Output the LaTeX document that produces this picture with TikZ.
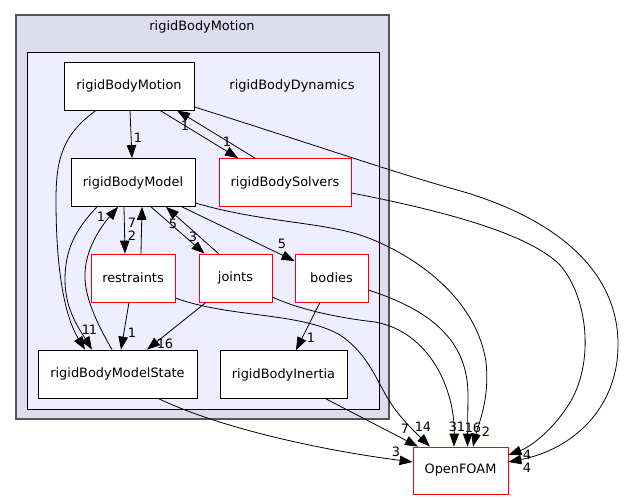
\documentclass[tikz,border=0pt]{standalone}
\usepackage{fontspec}
\setmainfont{DejaVu Sans}
\usetikzlibrary{arrows.meta,calc}
\definecolor{outerfill}{HTML}{DDDDEE}
\definecolor{innerfill}{HTML}{EEEEFF}
\definecolor{outerline}{HTML}{555555}
\begin{document}
\begin{tikzpicture}[x=1pt,y=-1pt,
  every node/.style={font=\fontsize{12.9}{14}\selectfont},
  box/.style={draw=black, fill=white, line width=0.8pt, minimum height=48pt, inner sep=0pt},
  rbox/.style={box, draw=red},
  edge/.style={draw=black, line width=0.8pt, -{Triangle[length=13pt,width=9.5pt]}},
  lbl/.style={inner sep=0pt}]
\useasboundingbox (0,0) rectangle (625,500);
% clusters
\draw[fill=outerfill, draw=outerline, line width=1.2pt] (16,15) rectangle (389,419);
\node (clmotion) at (202,27) {rigidBodyMotion};
\draw[fill=innerfill, draw=black, line width=0.9pt] (27,52) rectangle (379,409);
\node (cldyn) at (292,86) {rigidBodyDynamics};
% nodes
\node[box, minimum width=130pt] (motion) at (129,86) {rigidBodyMotion};
\node[box, minimum width=124pt] (model) at (133,182.5) {rigidBodyModel};
\node[rbox, minimum width=132pt] (solvers) at (285,182.5) {rigidBodySolvers};
\node[rbox, minimum width=84pt] (restraints) at (133,278) {restraints};
\node[rbox, minimum width=73pt] (joints) at (235.5,278) {joints};
\node[rbox, minimum width=73pt] (bodies) at (331.5,278) {bodies};
\node[box, minimum width=159pt] (state) at (117.5,374) {rigidBodyModelState};
\node[box, minimum width=127pt] (inertia) at (283.5,374.5) {rigidBodyInertia};
\node[rbox, minimum width=95pt, minimum height=47pt] (openfoam) at (460.5,470.5) {OpenFOAM};
% edges
\draw[edge] ([xshift=1pt]motion.south) -- ([xshift=-1pt]model.north);
\draw[edge] ([xshift=31pt]motion.south) -- ([xshift=-47pt]solvers.north);
\draw[edge] ([xshift=-30pt]solvers.north) -- ([xshift=48pt]motion.south);
\draw[edge] ([xshift=-33pt]motion.south) .. controls (62,135) and (56,160) .. (56,200) .. controls (56,290) and (70,325) .. ([xshift=-32.5pt]state.north);
\draw[edge] ([xshift=-36pt]model.south) .. controls (75,230) and (65,250) .. (65,280) .. controls (65,310) and (80,330) .. ([xshift=-25.5pt]state.north);
\draw[edge] ([xshift=-5.5pt]state.north) .. controls (95,320) and (84,295) .. (85,273) .. controls (86,245) and (105,222) .. ([xshift=-15pt]model.south);
\draw[edge] ([xshift=-9pt]model.south) -- ([xshift=-8pt]restraints.north);
\draw[edge] ([xshift=8pt]restraints.north) -- ([xshift=9pt]model.south);
\draw[edge] ([xshift=18pt]model.south) -- ([xshift=-31pt]joints.north);
\draw[edge] ([xshift=-17pt]joints.north) -- ([xshift=33pt]model.south);
\draw[edge] ([xshift=49pt]model.south) -- ([yshift=17pt]bodies.west);
\draw[edge] ([yshift=-20.5pt]model.east) .. controls (260,222) and (320,222) .. (360,235) .. controls (400,248) and (475,290) .. (486,362) .. controls (490,400) and (478,425) .. ([xshift=12.5pt]openfoam.north);
\draw[edge] ([yshift=-10.5pt]solvers.east) .. controls (450,212) and (530,235) .. (560,265) .. controls (590,300) and (595,370) .. (565,410) .. controls (550,432) and (530,447) .. ([yshift=15.5pt]openfoam.east);
\draw[edge] ([yshift=-21pt]motion.east) .. controls (300,140) and (380,168) .. (450,188) .. controls (540,212) and (615,260) .. (618,340) .. controls (620,410) and (570,450) .. ([yshift=8.5pt]openfoam.east);
\draw[edge] ([yshift=-20pt]restraints.east) .. controls (230,318) and (300,312) .. (340,335) .. controls (370,355) and (378,385) .. (392,405) .. controls (402,420) and (418,435) .. ([xshift=-30.5pt]openfoam.north);
\draw[edge] ([yshift=-19pt]joints.east) .. controls (300,310) and (340,318) .. (375,322) .. controls (430,332) and (455,390) .. ([xshift=-6.5pt]openfoam.north);
\draw[edge] ([yshift=-12pt]bodies.east) .. controls (430,310) and (468,340) .. (468,395) -- ([xshift=7pt]openfoam.north);
\draw[edge] ([xshift=42.5pt]inertia.south) -- ([xshift=-42.5pt]openfoam.north);
\draw[edge] ([xshift=40.5pt]state.south) .. controls (220,428) and (320,450) .. ([yshift=8.5pt]openfoam.west);
\draw[edge] ([xshift=-11.5pt]bodies.south) -- ([xshift=12.5pt]inertia.north);
\draw[edge] ([xshift=-4pt]restraints.south) -- ([xshift=3.5pt]state.north);
\draw[edge] ([xshift=-29.5pt]joints.south) -- ([xshift=29.5pt]state.north);
% edge labels
\node[lbl] (l1) at (138,138) {1};
\node[lbl] (l2) at (227,142) {1};
\node[lbl] (l3) at (185,126) {1};
\node[lbl] (l4) at (86,330) {1};
\node[lbl] (l5) at (93,330) {1};
\node[lbl] (l6) at (101,217) {1};
\node[lbl] (l7) at (132,236) {2};
\node[lbl] (l8) at (132,223) {7};
\node[lbl] (l9) at (173,224) {5};
\node[lbl] (l10) at (193,237) {3};
\node[lbl] (l11) at (282,244) {5};
\node[lbl] (l12) at (486,432) {2};
\node[lbl] (l13) at (527,455) {4};
\node[lbl] (l14) at (527,468) {4};
\node[lbl] (l15) at (423,427) {14};
\node[lbl] (l16) at (457,427) {31};
\node[lbl] (l17) at (473,428) {16};
\node[lbl] (l18) at (405,429) {7};
\node[lbl] (l19) at (396,452) {3};
\node[lbl] (l20) at (311,338) {1};
\node[lbl] (l21) at (132,333) {1};
\node[lbl] (l22) at (165,344) {16};
\end{tikzpicture}
\end{document}
